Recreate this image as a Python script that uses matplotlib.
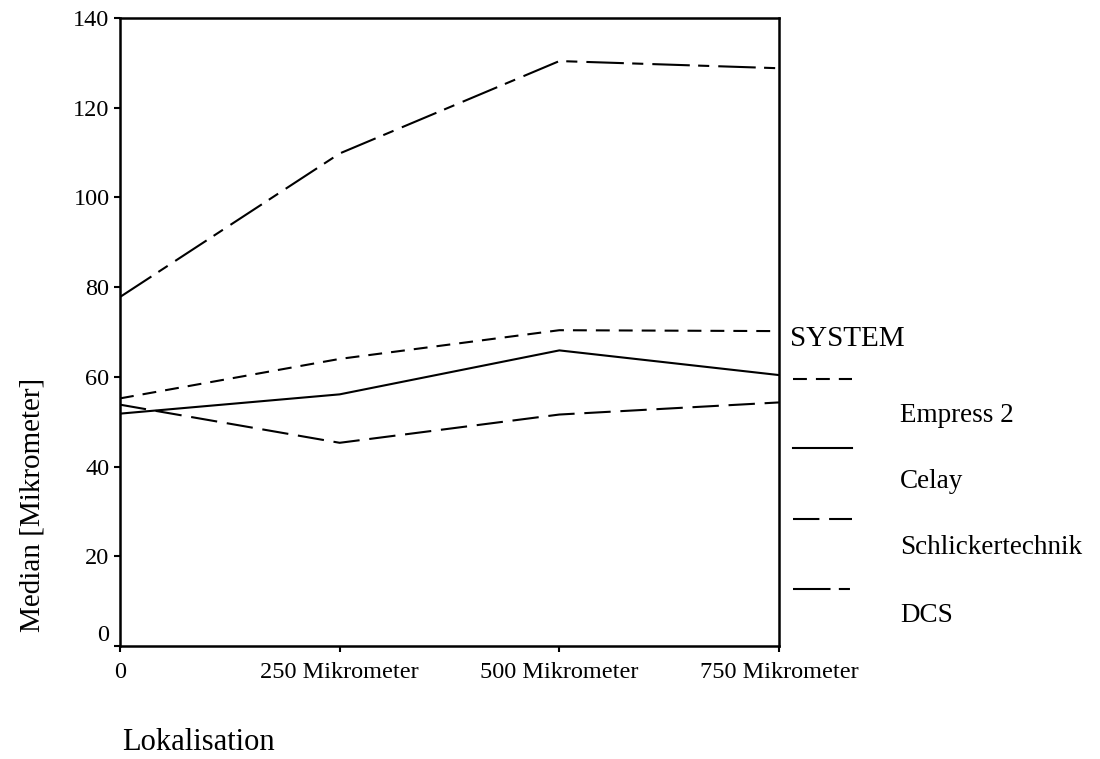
import numpy as np
import matplotlib
matplotlib.use("Agg")
import matplotlib.pyplot as plt
import matplotlib.transforms as mtransforms
from matplotlib.lines import Line2D

plt.rcParams["font.family"] = ["Liberation Serif", "DejaVu Serif"]

# data
locations = ["0", "250 Mikrometer", "500 Mikrometer", "750 Mikrometer"]
empress = [55.2, 64.0, 70.4, 70.2]
celay = [51.8, 56.1, 65.9, 60.4]
schlicker = [53.8, 45.3, 51.6, 54.3]
dcs = [77.8, 109.8, 130.4, 128.8]
systems = ["Empress 2", "Celay", "Schlickertechnik", "DCS"]

lw = 1.5
styles = {
    "Empress 2": dict(dashes=(10 / lw, 6.5 / lw)),
    "Celay": dict(linestyle="-"),
    "Schlickertechnik": dict(dashes=(19 / lw, 7 / lw)),
    "DCS": dict(dashes=(27 / lw, 6 / lw, 8 / lw, 6.5 / lw)),
}
series = dict(zip(systems, [empress, celay, schlicker, dcs]))

fig = plt.figure(figsize=(11, 7.59), dpi=100)
ax = fig.add_axes([120 / 1100, 1 - 646 / 759, 659 / 1100, 628 / 759])

x = np.arange(len(locations))
for name in systems:
    ax.plot(x, series[name], color="black", lw=lw, **styles[name])

ax.set_xlim(0, len(locations) - 1)
ax.set_ylim(0, 140)
ax.set_xticks(x)
ax.set_xticklabels(locations, fontsize=17.5)
ax.set_yticks(np.arange(0, 141, 20))
ax.set_yticklabels([str(v) for v in range(0, 141, 20)], fontsize=17.5)
ax.tick_params(direction="out", length=4.5, width=1.5, pad=3)
ax.tick_params(axis="x", pad=7)
for sp in ax.spines.values():
    sp.set_linewidth(1.8)

# the 0 label sits a bit above the axis in the original
lab0 = ax.get_yticklabels()[0]
lab0.set_transform(lab0.get_transform() + mtransforms.ScaledTranslation(0, 9.5 / 72, fig.dpi_scale_trans))

fig.text(33 / 1100, 1 - 505 / 759, "Median [Mikrometer]", rotation=90,
         ha="center", va="center", fontsize=21)
fig.text(122 / 1100, 1 - 742 / 759, "Lokalisation", ha="left", va="center", fontsize=22)

# legend drawn by hand: sample line above the label
fig.text(790 / 1100, 1 - 339 / 759, "SYSTEM", ha="left", va="center", fontsize=21)
line_y = [379, 448, 519, 589]
label_y = [416, 481, 548, 616]
for name, ly, ty in zip(systems, line_y, label_y):
    fig.add_artist(Line2D([793 / 1100, 852 / 1100], [1 - ly / 759, 1 - ly / 759],
                          color="black", lw=lw, **styles[name]))
    fig.text(900 / 1100, 1 - ty / 759, name, ha="left", va="center", fontsize=19.5)

fig.savefig("out.png", dpi=100)
